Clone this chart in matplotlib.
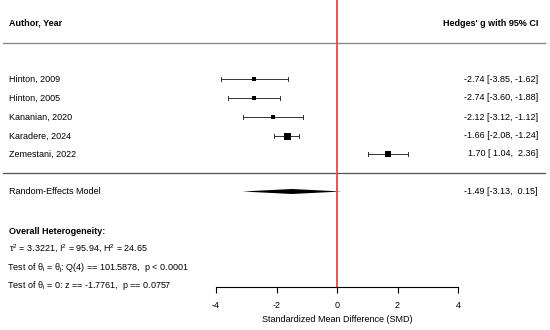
"""Forest plot: Hedges' g with 95% CI per study plus random-effects summary"""

import matplotlib.pyplot as plt
from matplotlib.patches import Polygon

plt.rcParams['font.family'] = ['Liberation Sans', 'DejaVu Sans']
plt.rcParams['axes.unicode_minus'] = False
plt.rcParams['mathtext.default'] = 'regular'

studies = ["Hinton, 2009", "Hinton, 2005", "Kananian, 2020",
           "Karadere, 2024", "Zemestani, 2022"]
g = [-2.74, -2.74, -2.12, -1.66, 1.70]
ci_low = [-3.85, -3.60, -3.12, -2.08, 1.04]
ci_high = [-1.62, -1.88, -1.12, -1.24, 2.36]
weights = [3.2, 5.0, 3.2, 7.0, 5.2]  # marker size in px

re_est, re_low, re_high = -1.49, -3.13, 0.15

x_ticks = [-4, -2, 0, 2, 4]
het_lines = [r"$\tau^2$ = 3.3221, I$^2$ = 95.94, H$^2$ = 24.65",
             r"Test of $\theta_i$ = $\theta_j$: Q(4) == 101.5878,  p < 0.0001",
             r"Test of $\theta_i$ = 0: z == -1.7761,  p == 0.0757"]

W, H = 550, 330
fig = plt.figure(figsize=(W / 100, H / 100), dpi=100)
# axes spans the plotting area in pixels: x 216..458, y 0..287 from top
ax = fig.add_axes([216 / W, (H - 287) / H, 242 / W, 287 / H])
ax.set_xlim(-4, 4)
ax.set_ylim(287, 0)  # y in pixel rows from the top
for s in ['top', 'right', 'left']:
    ax.spines[s].set_visible(False)
ax.spines['bottom'].set_linewidth(0.8)
ax.set_yticks([])
ax.set_xticks(x_ticks)
ax.tick_params(axis='x', length=4, width=0.8, labelsize=6.5, pad=6)
ax.set_xlabel("Standardized Mean Difference (SMD)", fontsize=6.5, labelpad=4)

px = 8.0 / 242  # one pixel in data units along x
x_left, x_right = -4 - 213 * px, 4 + 87 * px
x_text = -4 - 207 * px
x_val = 4 + 80 * px

fs = 6.5
row_y = [79, 98, 117, 136, 154]

# header
ax.text(x_text, 23, "Author, Year", fontsize=fs, fontweight='bold',
        va='center', ha='left', clip_on=False)
ax.text(x_val, 23, "Hedges' g with 95% CI", fontsize=fs, fontweight='bold',
        va='center', ha='right', clip_on=False)
ax.plot([x_left, x_right], [43, 43], color='#8a8a8a', lw=1, clip_on=False)
ax.plot([x_left, x_right], [173, 173], color='#555555', lw=0.9, clip_on=False)

# studies
for name, est, lo, hi, w, y in zip(studies, g, ci_low, ci_high, weights, row_y):
    ax.text(x_text, y, name, fontsize=fs, va='center', ha='left', clip_on=False)
    ax.plot([lo, hi], [y, y], color='#333333', lw=0.7)
    for e in (lo, hi):
        ax.plot([e, e], [y - 1.8, y + 1.8], color='#333333', lw=0.7)
    ax.plot(est, y, marker='s', color='black', ms=w * 0.72, mew=0)
    ax.text(x_val, y, f"{est:.2f} [{lo:5.2f}, {hi:5.2f}]",
            fontsize=fs, va='center', ha='right', clip_on=False)

# random-effects summary
y_re = 191.5
ax.text(x_text, y_re, "Random-Effects Model", fontsize=fs, va='center',
        ha='left', clip_on=False)
ax.add_patch(Polygon([[re_low, y_re], [re_est, y_re - 2.5],
                      [re_high, y_re], [re_est, y_re + 2.5]],
                     closed=True, color='black', lw=0))
ax.text(x_val, y_re, f"{re_est:.2f} [{re_low:.2f}, {re_high:5.2f}]",
        fontsize=fs, va='center', ha='right', clip_on=False)

# null line
ax.axvline(0, color='#e8474c', lw=1.3, ymin=0, ymax=1, clip_on=False)

# heterogeneity
ax.text(x_text, 231, "Overall Heterogeneity:", fontsize=fs, fontweight='bold',
        va='center', ha='left', clip_on=False)
for i, (line, y) in enumerate(zip(het_lines, [249, 268, 286])):
    xoff = 0 if i == 0 else -2 * px
    ax.text(x_text + xoff, y, line, fontsize=fs, va='center', ha='left',
            clip_on=False)

fig.savefig("out.png", dpi=100)
